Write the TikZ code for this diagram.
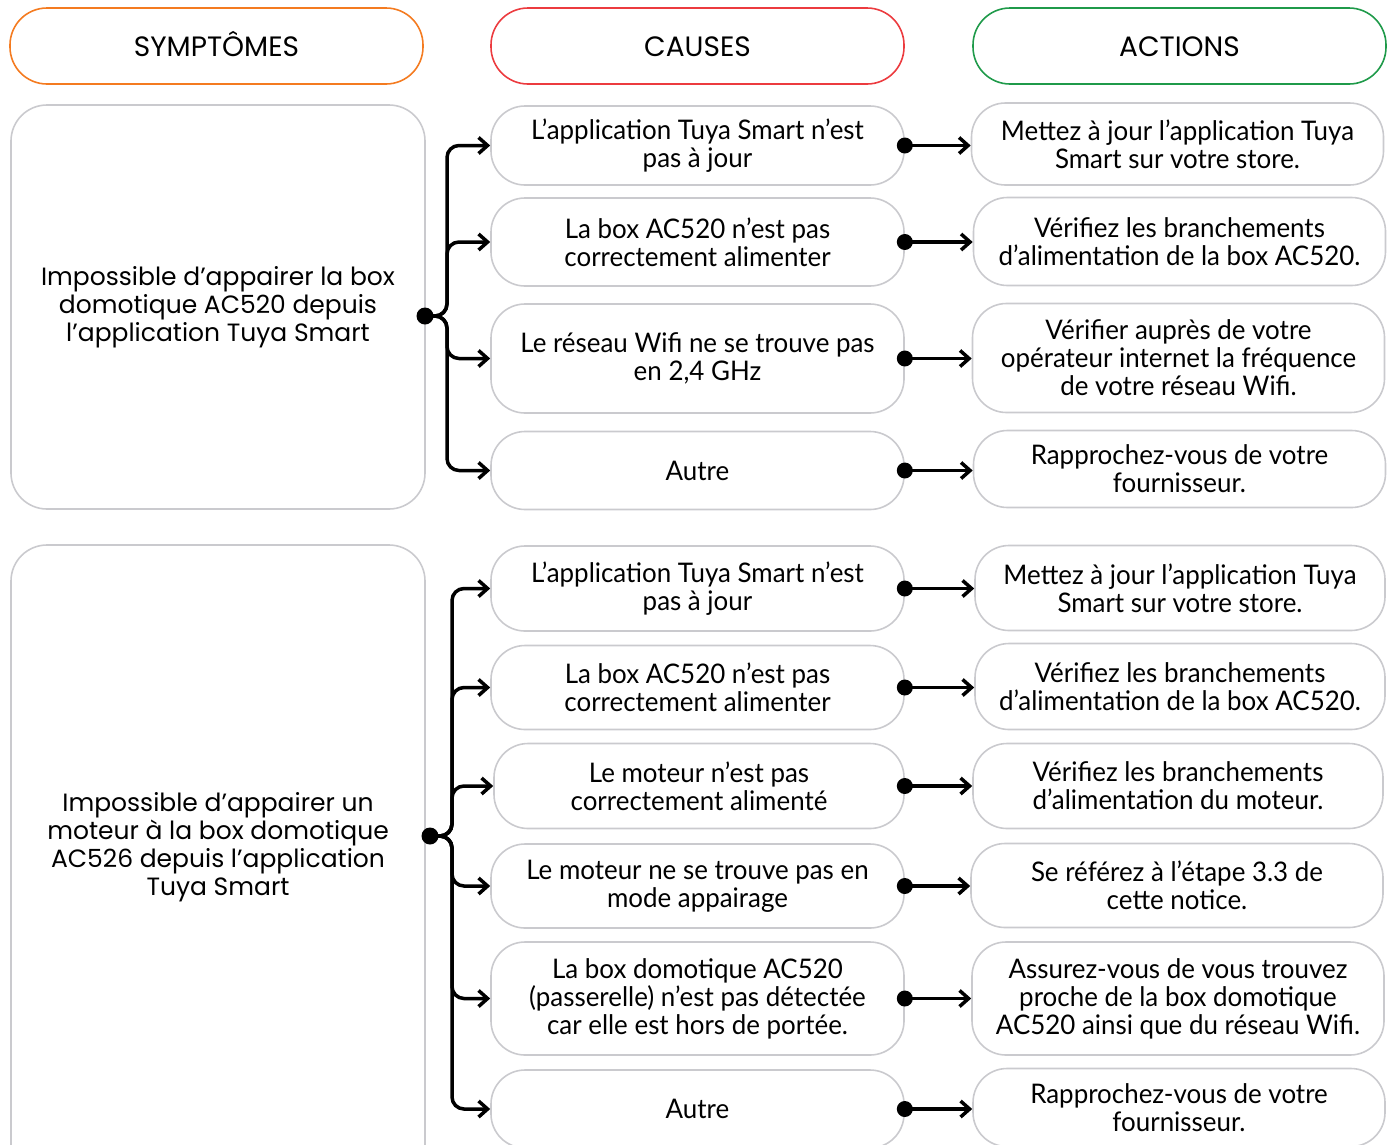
\documentclass[tikz,border=0pt]{standalone}
\usepackage{fontspec}
\setmainfont{Lato}[FakeStretch=0.96]
\newfontfamily\headfont{Poppins}
\usetikzlibrary{arrows.meta, positioning, calc}
\definecolor{symorange}{HTML}{F47B20}
\definecolor{causered}{HTML}{EC3B3F}
\definecolor{actgreen}{HTML}{1F9A4A}
\definecolor{boxgray}{HTML}{CACACE}
\tikzset{
    header/.style={rectangle, rounded corners=37pt, minimum width=413pt, minimum height=76pt, text centered, text height=20pt, text depth=0pt, line width=1.6pt, font=\headfont\fontsize{28}{30}\selectfont},
    symptom/.style={rectangle, rounded corners=36pt, draw=boxgray, line width=1.6pt, minimum width=414pt, align=center, font=\headfont\fontsize{25}{28}\selectfont},
    cause/.style={rectangle, rounded corners=34pt, draw=boxgray, line width=1.6pt, minimum width=413pt, align=center, font=\fontsize{27}{28}\selectfont},
    action/.style={cause, minimum width=412pt},
    arrow/.style={line width=3.5pt, -{Straight Barb[length=9pt, width=16pt]}},
    branch/.style={arrow, rounded corners=12pt},
    dot/.style={fill=black}
}

\begin{document}
\begin{tikzpicture}[x=1pt, y=-1pt]
        \useasboundingbox (0,0) rectangle (1391,1144);
        % Headers
        \node (hsym) [header, draw=symorange] at (216.5,46) {SYMPTÔMES};
        \node (hcau) [header, draw=causered] at (697.5,46) {CAUSES};
        \node (hact) [header, draw=actgreen] at (1179.5,46) {ACTIONS};

        % First symptom
        \node (s1) [symptom, minimum height=404pt] at (218,307) {Impossible d’appairer la box\\domotique AC520 depuis\\l’application Tuya Smart};
        \node (c1) [cause, minimum height=79pt] at (697.5,145.5) {L’application Tuya Smart n’est\\pas à jour};
        \node (c2) [cause, minimum height=88pt] at (697.5,242) {La box AC520 n’est pas\\correctement alimenter};
        \node (c3) [cause, minimum height=109pt] at (697.5,358.5) {Le réseau Wifi ne se trouve pas\\en 2,4 GHz};
        \node (c4) [cause, minimum height=78pt] at (697.5,470.5) {Autre};
        \node (a1) [action, minimum height=82pt] at (1177.5,144) {Mettez à jour l’application Tuya\\Smart sur votre store.};
        \node (a2) [action, minimum height=88pt] at (1179.5,241.5) {Vérifiez les branchements\\d’alimentation de la box AC520.};
        \node (a3) [action, minimum height=109pt] at (1178.5,358) {Vérifier auprès de votre\\opérateur internet la fréquence\\de votre réseau Wifi.};
        \node (a4) [action, minimum height=77pt] at (1179.5,469) {Rapprochez-vous de votre\\fournisseur.};

        % Second symptom
        \node (s2) [symptom, minimum height=655pt, text depth=58pt] at (218,872.5) {Impossible d’appairer un\\moteur à la box domotique\\AC526 depuis l’application\\Tuya Smart};
        \node (c5) [cause, minimum height=85pt] at (697.5,588.5) {L’application Tuya Smart n’est\\pas à jour};
        \node (c6) [cause, minimum height=84pt] at (697.5,687.5) {La box AC520 n’est pas\\correctement alimenter};
        \node (c7) [cause, minimum height=85pt, minimum width=410pt] at (699,786) {Le moteur n’est pas\\correctement alimenté};
        \node (c8) [cause, minimum height=84pt] at (697.5,886) {Le moteur ne se trouve pas en\\mode appairage};
        \node (c9) [cause, minimum height=113pt] at (697.5,998.5) {La box domotique AC520\\(passerelle) n’est pas détectée\\car elle est hors de portée.};
        \node (c10) [cause, minimum height=78pt] at (697.5,1109) {Autre};
        \node (a5) [action, minimum height=85pt, minimum width=410pt] at (1180,588) {Mettez à jour l’application Tuya\\Smart sur votre store.};
        \node (a6) [action, minimum height=86pt, minimum width=410pt] at (1180,686.5) {Vérifiez les branchements\\d’alimentation de la box AC520.};
        \node (a7) [action, minimum height=85pt, minimum width=410pt] at (1178,786) {Vérifiez les branchements\\d’alimentation du moteur.};
        \node (a8) [action, minimum height=84pt] at (1177,885.5) {Se référez à l’étape 3.3 de\\cette notice.};
        \node (a9) [action, minimum height=113pt] at (1178,998.5) {Assurez-vous de vous trouvez\\proche de la box domotique\\AC520 ainsi que du réseau Wifi.};
        \node (a10) [action, minimum height=78pt] at (1179,1107.5) {Rapprochez-vous de votre\\fournisseur.};

        % Branches from the symptoms
        \coordinate (d1) at (425,316);
        \coordinate (d2) at (430,836);
        \draw[branch] (d1) -- ++(22,0) |- (c1.west);
        \draw[branch] (d1) -- ++(22,0) |- (c2.west);
        \draw[branch] (d1) -- ++(22,0) |- (c3.west);
        \draw[branch] (d1) -- ++(22,0) |- (c4.west);
        \draw[branch] (d2) -- ++(22,0) |- (c5.west);
        \draw[branch] (d2) -- ++(22,0) |- (c6.west);
        \draw[branch] (d2) -- ++(22,0) |- (c7.west);
        \draw[branch] (d2) -- ++(22,0) |- (c8.west);
        \draw[branch] (d2) -- ++(22,0) |- (c9.west);
        \draw[branch] (d2) -- ++(22,0) |- (c10.west);
        \fill[dot] (d1) circle (8.5);
        \fill[dot] (d2) circle (8.5);

        % Causes to actions
        \draw[arrow] (c1.east) -- (c1.east -| a1.west);
        \draw[arrow] (c2.east) -- (c2.east -| a2.west);
        \draw[arrow] (c3.east) -- (c3.east -| a3.west);
        \draw[arrow] (c4.east) -- (c4.east -| a4.west);
        \draw[arrow] (c5.east) -- (c5.east -| a5.west);
        \draw[arrow] (c6.east) -- (c6.east -| a6.west);
        \draw[arrow] (c7.east) -- (c7.east -| a7.west);
        \draw[arrow] (c8.east) -- (c8.east -| a8.west);
        \draw[arrow] (c9.east) -- (c9.east -| a9.west);
        \draw[arrow] (c10.east) -- (c10.east -| a10.west);
        \foreach \n in {c1,c2,c3,c4,c5,c6,c7,c8,c9,c10}
            \fill[dot] (\n.east) circle (8);
    \end{tikzpicture}
\end{document}
